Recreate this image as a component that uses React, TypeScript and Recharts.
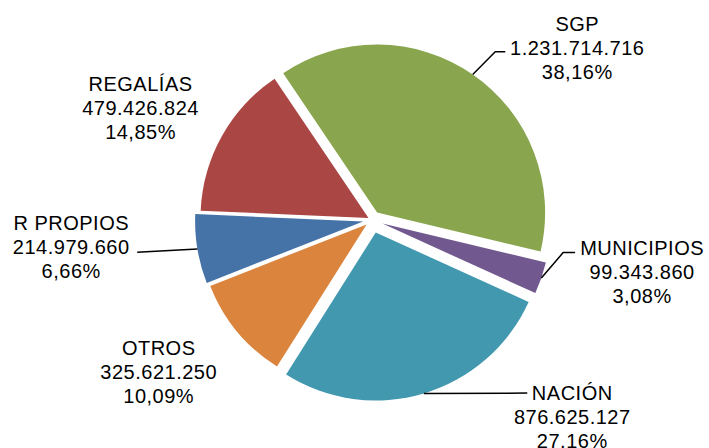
import React from "react";
import { PieChart, Pie, Cell, Sector } from "recharts";

const categories = ["SGP", "MUNICIPIOS", "NACIÓN", "OTROS", "R PROPIOS", "REGALÍAS"];
const amounts = [1231714716, 99343860, 876625127, 325621250, 214979660, 479426824];
const colors = ["#89A54E", "#71588F", "#4198AF", "#DB843D", "#4572A7", "#AA4643"];

// how far each slice is pulled out (px)
const explode = [9, 11, 13, 7, 9, 4];
// label placement: radius from centre and clockwise shift from the slice middle (deg)
const labelRadius = [268, 275, 281, 262, 302, 257];
const labelShift = [15.3, -8.1, -28.8, 4.1, 4.3, -3.5];
// leader line end relative to label centre, plus horizontal elbow length
const leaderEnd: ([number, number] | null)[] = [[-72, 4], [-67, -19], [-45, -24], null, [66, 5], null];
const leaderElbow = [-10, -12, 0, 0, 0, 0];

const data = categories.map((name, i) => ({ name, value: amounts[i] }));

const RAD = Math.PI / 180;
const fmt = (v: number) => String(v).replace(/\B(?=(\d{3})+(?!\d))/g, ".");
const pct = (p: number) => (p * 100).toFixed(2).replace(".", ",");

function offsetOf(i: number, midAngle: number) {
  const d = explode[i] ?? 0;
  return [d * Math.cos(-midAngle * RAD), d * Math.sin(-midAngle * RAD)];
}

function ExplodedSlice(props: any) {
  const i = categories.indexOf(props.payload?.name ?? props.name);
  const [dx, dy] = offsetOf(i, props.midAngle);
  return <Sector {...props} cx={props.cx + dx} cy={props.cy + dy} />;
}

function SliceLabel(props: any) {
  const { cx, cy, midAngle, outerRadius, index, percent } = props;
  const a = midAngle - labelShift[index];
  const lx = cx + labelRadius[index] * Math.cos(-a * RAD);
  const ly = cy + labelRadius[index] * Math.sin(-a * RAD);
  const [dx, dy] = offsetOf(index, midAngle);
  const end = leaderEnd[index];
  let line = null;
  if (end) {
    const sx = cx + dx + outerRadius * Math.cos(-midAngle * RAD);
    const sy = cy + dy + outerRadius * Math.sin(-midAngle * RAD);
    const ex = lx + end[0];
    const ey = ly + end[1];
    const pts = [`${sx},${sy}`, `${ex + leaderElbow[index]},${ey}`, `${ex},${ey}`].join(" ");
    line = <polyline points={pts} fill="none" stroke="#000" strokeWidth={1.5} />;
  }
  const lines = [categories[index], fmt(amounts[index]), `${pct(percent)}%`];
  return (
    <g>
      {line}
      {lines.map((t, k) => (
        <text
          key={k}
          x={lx}
          y={ly + (k - 1) * 24 + 7}
          textAnchor="middle"
          fill="#000"
          fontSize={20}
          letterSpacing={0.5}
          fontFamily="'Liberation Sans', Arial, sans-serif"
        >
          {t}
        </text>
      ))}
    </g>
  );
}

export default function App() {
  return (
    <div style={{ position: "absolute", left: 0, top: 0, background: "#fff" }}>
      <PieChart width={709} height={448} margin={{ top: 0, right: 0, bottom: 0, left: 0 }}>
        <Pie
          data={data}
          dataKey="value"
          nameKey="name"
          cx={372}
          cy={220}
          outerRadius={168}
          startAngle={124}
          endAngle={-236}
          stroke="none"
          shape={ExplodedSlice}
          label={SliceLabel}
          labelLine={false}
          isAnimationActive={false}
        >
          {data.map((d, i) => (
            <Cell key={d.name} fill={colors[i]} />
          ))}
        </Pie>
      </PieChart>
    </div>
  );
}
